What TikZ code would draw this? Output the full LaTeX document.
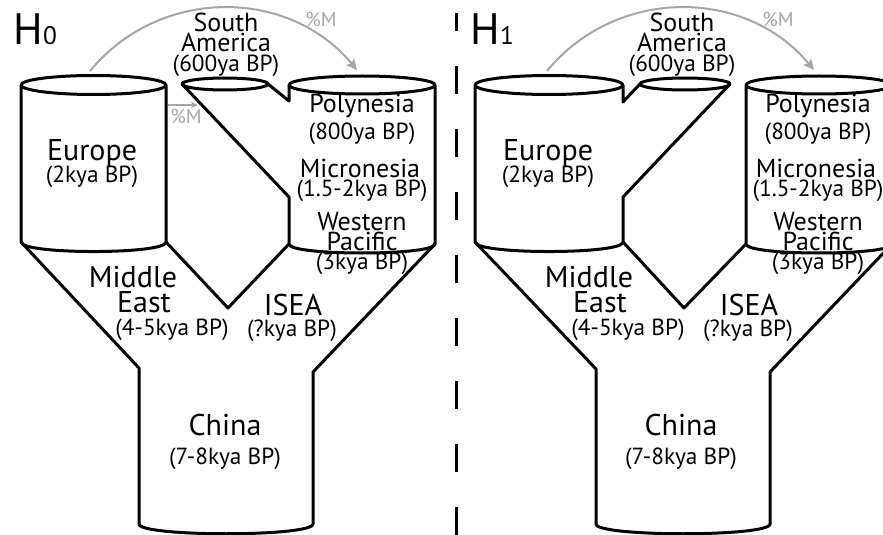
\documentclass[tikz,border=0pt]{standalone}
\usepackage{fontspec}
\setmainfont{PT Sans}
\usetikzlibrary{arrows.meta}

\definecolor{flowgray}{RGB}{166,166,166}

\tikzset{every picture/.style={line width=0.75pt}}
\tikzset{
  wall/.style={line width=2.25pt, line join=round},
  flow/.style={draw=flowgray, line width=1.5pt, -{Stealth[length=8pt,width=7.5pt,inset=1.5pt]}},
  bigname/.style={anchor=base, inner sep=0pt, font=\fontsize{22.5}{27}\selectfont},
  regionlbl/.style={anchor=base, inner sep=0pt, font=\fontsize{19.5}{23}\selectfont},
  agelbl/.style={anchor=base, inner sep=0pt, font=\fontsize{17.5}{21}\selectfont},
  migrlbl/.style={anchor=base, inner sep=0pt, text=flowgray, font=\fontsize{15}{18}\selectfont},
  hyplbl/.style={anchor=base west, inner sep=0pt, font=\fontsize{33}{38}\selectfont}
}

\begin{document}
\begin{tikzpicture}[x=0.75pt,y=0.75pt,yscale=-1,xscale=1]
\useasboundingbox (0,0) rectangle (883,535);
\clip (0,0) rectangle (883,535);

%%%%% H0 %%%%%
%Shape: Cylinder [Europe]
\draw [wall] (93.5,85) ellipse [x radius=72.5, y radius=9.5];
\draw [wall] (21,85) -- (21,242) .. controls (21,254.7) and (166,254.7) .. (166,242) -- (166,85);
%Shape: Ellipse [South America]
\draw [wall] (225,84) ellipse [x radius=43, y radius=6];
%Shape: Cylinder [Polynesia], left wall opened for South America
\draw [wall] (362,85) ellipse [x radius=73, y radius=9];
\draw [wall] (268,84) -- (289,101) -- (289,85);
\draw [wall] (182,84) -- (289,197) -- (289,244) .. controls (289,256) and (435,256) .. (435,244) -- (435,85);
%Straight Lines [funnel down to China]
\draw [wall] (21,242) -- (139,368) -- (139,524) .. controls (139,537) and (313,537) .. (313,524) -- (313,372) -- (435,244);
\draw [wall] (166,242) -- (228,308) -- (289,244);
%Curve Lines [migration Europe -> Polynesia]
\draw [flow] (90,71) .. controls (159,-13) and (288,-13) .. (357,70);
%Straight Lines [migration Europe -> South America]
\draw [draw=flowgray, line width=1.2pt, -{Stealth[length=5pt,width=4.5pt,inset=1pt]}] (168,105) -- (198,105);

% Text Node
\draw (13,45) node (h0) [hyplbl] {H{\fontsize{19}{22}\selectfont 0}};
% Text Node
\draw (226,32) node (south0) [regionlbl] {South};
\draw (226,52) node (america0) [regionlbl] {America};
\draw (226,72) node (sa0age) [agelbl] {(600ya BP)};
% Text Node
\draw (321,27) node (mig0a) [migrlbl] {\%M};
\draw (186,123) node (mig0b) [migrlbl] {\%M};
% Text Node
\draw (92,161) node (eur0) [bigname] {Europe};
\draw (92,182) node (eur0age) [agelbl] {(2kya BP)};
% Text Node
\draw (362,113) node (poly0) [regionlbl] {Polynesia};
\draw (362,140) node (poly0age) [agelbl] {(800ya BP)};
\draw (360,177) node (micro0) [regionlbl] {Micronesia};
\draw (362,196) node (micro0age) [agelbl] {(1.5-2kya BP)};
\draw (362,230) node (west0) [regionlbl] {Western};
\draw (362,250) node (pac0) [regionlbl] {Pacific};
\draw (362,269) node (wp0age) [agelbl] {(3kya BP)};
% Text Node
\draw (133,287) node (mid0) [bigname] {Middle};
\draw (144,312) node (east0) [bigname] {East};
\draw (172,335) node (me0age) [agelbl] {(4-5kya BP)};
\draw (293,315) node (isea0) [bigname] {ISEA};
\draw (292,336) node (isea0age) [agelbl] {(?kya BP)};
\draw (225,435) node (china0) [bigname] {China};
\draw (225,464) node (china0age) [agelbl] {(7-8kya BP)};

%Straight Lines [separator]
\draw [line width=2.25pt, dash pattern=on 21pt off 26.25pt, dash phase=7.5pt] (456,13) -- (456,535);

%%%%% H1 %%%%%
%Shape: Cylinder [Europe], right wall opened for South America
\draw [wall] (549,85) ellipse [x radius=74, y radius=9.5];
\draw [wall] (475,85) -- (475,242) .. controls (475,254.7) and (623,254.7) .. (623,242) -- (623,197) -- (730,84);
\draw [wall] (640,84) -- (623,102) -- (623,85);
%Shape: Ellipse [South America]
\draw [wall] (685,84) ellipse [x radius=45, y radius=6];
%Shape: Cylinder [Polynesia]
\draw [wall] (819,85) ellipse [x radius=73, y radius=9];
\draw [wall] (746,85) -- (746,244) .. controls (746,256) and (892,256) .. (892,244) -- (892,85);
%Straight Lines [funnel down to China]
\draw [wall] (475,242) -- (596,369) -- (596,524) .. controls (596,537) and (770,537) .. (770,524) -- (770,372) -- (892,244);
\draw [wall] (623,242) -- (684,308) -- (746,244);
%Curve Lines [migration Europe -> Polynesia]
\draw [flow] (547,71) .. controls (616,-13) and (745,-13) .. (814,70);

% Text Node
\draw (470,45) node (h1) [hyplbl] {H{\fontsize{19}{22}\selectfont 1}};
% Text Node
\draw (682,32) node (south1) [regionlbl] {South};
\draw (682,52) node (america1) [regionlbl] {America};
\draw (682,72) node (sa1age) [agelbl] {(600ya BP)};
\draw (778,27) node (mig1a) [migrlbl] {\%M};
% Text Node
\draw (548,161) node (eur1) [bigname] {Europe};
\draw (548,182) node (eur1age) [agelbl] {(2kya BP)};
% Text Node
\draw (818,113) node (poly1) [regionlbl] {Polynesia};
\draw (818,140) node (poly1age) [agelbl] {(800ya BP)};
\draw (816,177) node (micro1) [regionlbl] {Micronesia};
\draw (818,196) node (micro1age) [agelbl] {(1.5-2kya BP)};
\draw (818,230) node (west1) [regionlbl] {Western};
\draw (818,250) node (pac1) [regionlbl] {Pacific};
\draw (818,269) node (wp1age) [agelbl] {(3kya BP)};
% Text Node
\draw (589,287) node (mid1) [bigname] {Middle};
\draw (600,312) node (east1) [bigname] {East};
\draw (628,335) node (me1age) [agelbl] {(4-5kya BP)};
\draw (749,315) node (isea1) [bigname] {ISEA};
\draw (748,336) node (isea1age) [agelbl] {(?kya BP)};
\draw (681,435) node (china1) [bigname] {China};
\draw (681,464) node (china1age) [agelbl] {(7-8kya BP)};

\end{tikzpicture}
\end{document}
